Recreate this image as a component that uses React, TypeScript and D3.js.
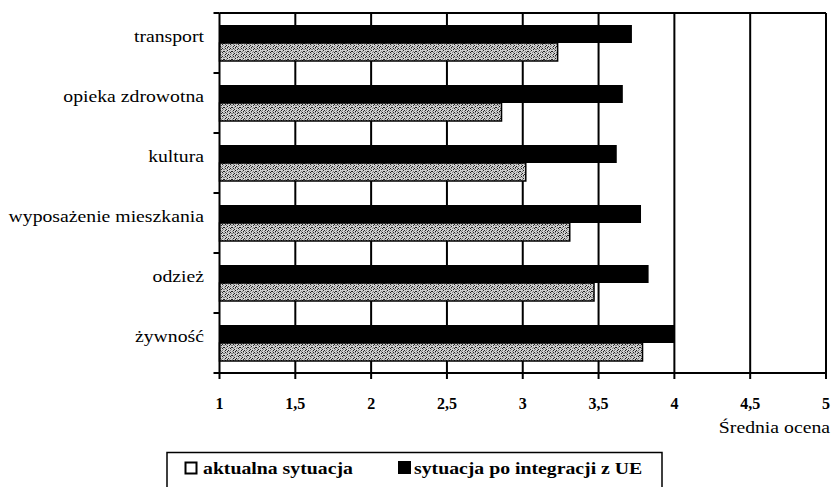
import React from "react";
import * as d3 from "d3";

const categories = [
  "transport",
  "opieka zdrowotna",
  "kultura",
  "wyposażenie mieszkania",
  "odzież",
  "żywność",
];
const aktualna = [3.23, 2.86, 3.02, 3.31, 3.47, 3.79];
const poIntegracji = [3.72, 3.66, 3.62, 3.78, 3.83, 4.0];
const xTicks = [1, 1.5, 2, 2.5, 3, 3.5, 4, 4.5, 5];
const xTickLabels = ["1", "1,5", "2", "2,5", "3", "3,5", "4", "4,5", "5"];
const seriesNames = ["aktualna sytuacja", "sytuacja po integracji z UE"];
const axisTitle = "Średnia ocena";

const W = 832;
const H = 487;
const serif = "'Liberation Serif', 'Times New Roman', serif";

const speckDark: [number, number][] = [
  [1, 0], [5, 1], [3, 2], [0, 3], [6, 4], [2, 5], [4, 6], [7, 3], [1, 6], [6, 0], [3, 7],
];
const speckMid: [number, number][] = [
  [3, 0], [7, 1], [0, 1], [5, 3], [2, 3], [6, 6], [4, 4], [0, 7], [5, 7], [2, 1], [7, 5], [1, 4],
];

export default function App() {
  const x = d3.scaleLinear().domain([1, 5]).range([219.5, 826]);
  const y = d3.scaleBand<string>().domain(categories).range([13, 373]).padding(0);
  const inner = d3
    .scaleBand<string>()
    .domain(["po", "akt"])
    .range([12, 48])
    .padding(0);
  const top = 13;
  const bottom = 373;
  const stretch = 1.16;

  return (
    <svg
      width={W}
      height={H}
      style={{ position: "absolute", left: 0, top: 0, background: "#fff" }}
    >
      <defs>
        <pattern id="speckle" width={8} height={8} patternUnits="userSpaceOnUse">
          <rect width={8} height={8} fill="#d0d0d0" />
          {speckMid.map(([px, py], i) => (
            <rect key={"m" + i} x={px} y={py} width={1} height={1} fill="#808080" />
          ))}
          {speckDark.map(([px, py], i) => (
            <rect key={"d" + i} x={px} y={py} width={1} height={1} fill="#202020" />
          ))}
        </pattern>
      </defs>

      {/* gridlines */}
      {xTicks.slice(1).map((t) => (
        <line key={"g" + t} x1={x(t)} x2={x(t)} y1={top} y2={bottom} stroke="#000" strokeWidth={2} />
      ))}
      <line x1={x(1)} x2={x(5)} y1={top} y2={top} stroke="#000" strokeWidth={2} />

      {/* bars */}
      {categories.map((c, i) => {
        const b = y(c)!;
        return (
          <g key={c}>
            <rect
              x={x(1)}
              y={b + inner("po")!}
              width={x(poIntegracji[i]) - x(1)}
              height={inner.bandwidth()}
              fill="#000"
            />
            <rect
              x={x(1)}
              y={b + inner("akt")!}
              width={x(aktualna[i]) - x(1)}
              height={inner.bandwidth()}
              fill="url(#speckle)"
              stroke="#000"
              strokeWidth={1.5}
            />
          </g>
        );
      })}

      {/* axes */}
      <line x1={x(1)} x2={x(1)} y1={top} y2={bottom} stroke="#000" strokeWidth={2} />
      <line x1={x(1) - 6} x2={x(5)} y1={bottom} y2={bottom} stroke="#000" strokeWidth={2} />
      {categories.map((c) => (
        <line key={"yt" + c} x1={x(1) - 6} x2={x(1)} y1={y(c)!} y2={y(c)!} stroke="#000" strokeWidth={2} />
      ))}
      {xTicks.map((t) => (
        <line key={"xt" + t} x1={x(t)} x2={x(t)} y1={bottom} y2={bottom + 6} stroke="#000" strokeWidth={2} />
      ))}

      {/* category labels */}
      {categories.map((c) => (
        <g key={"l" + c} transform={`translate(204,${y(c)! + 29}) scale(${stretch},1)`}>
          <text textAnchor="end" fontFamily={serif} fontSize={17} fill="#000">
            {c}
          </text>
        </g>
      ))}

      {/* tick labels */}
      {xTicks.map((t, i) => (
        <text
          key={"xl" + t}
          x={x(t)}
          y={409}
          textAnchor="middle"
          fontFamily={serif}
          fontWeight="bold"
          fontSize={16}
          fill="#000"
        >
          {xTickLabels[i]}
        </text>
      ))}

      <g transform={`translate(830,433) scale(${stretch},1)`}>
        <text textAnchor="end" fontFamily={serif} fontSize={17} fill="#000">
          {axisTitle}
        </text>
      </g>

      {/* legend */}
      <g>
        <polyline
          points={`167,${H + 2} 167,452.5 662,452.5 662,${H + 2}`}
          fill="none"
          stroke="#000"
          strokeWidth={1.5}
        />
        <rect x={185.5} y={462.5} width={11} height={11} fill="#fff" stroke="#000" strokeWidth={2} />
        <g transform={`translate(203,474) scale(1.13,1)`}>
          <text fontFamily={serif} fontWeight="bold" fontSize={17.5} fill="#000">
            {seriesNames[0]}
          </text>
        </g>
        <rect x={398} y={461} width={13} height={13} fill="#000" />
        <g transform={`translate(414,474) scale(1.13,1)`}>
          <text fontFamily={serif} fontWeight="bold" fontSize={17.5} fill="#000">
            {seriesNames[1]}
          </text>
        </g>
      </g>
    </svg>
  );
}
